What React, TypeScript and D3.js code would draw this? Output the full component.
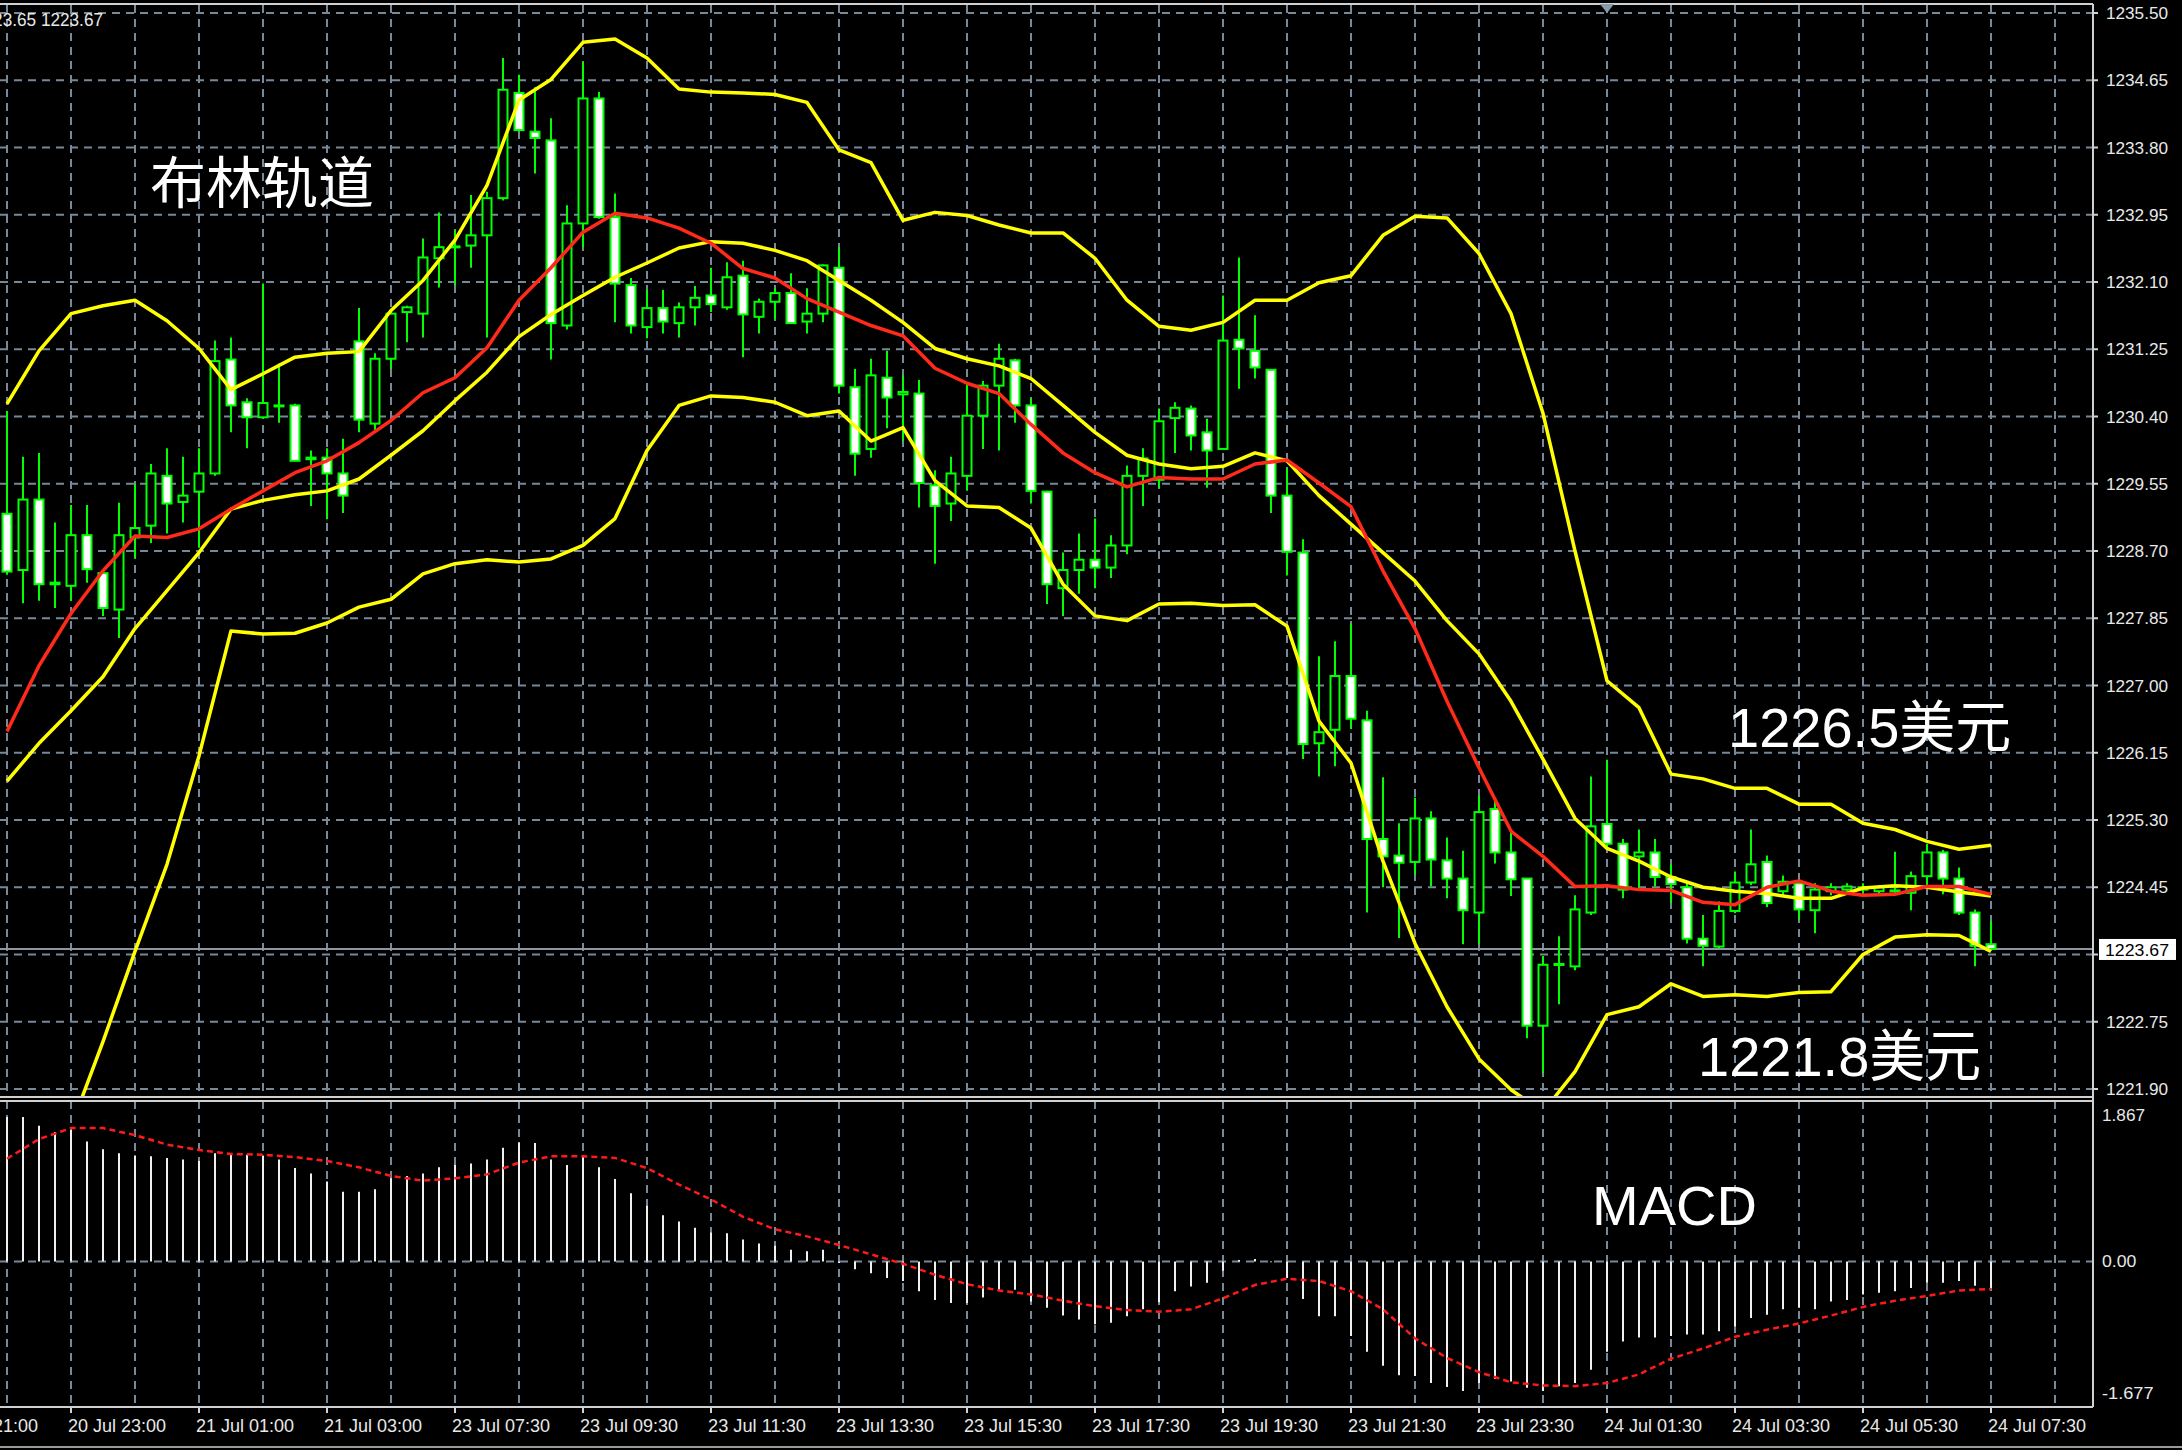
import { useEffect, useRef } from "react";
import * as d3 from "d3";

const WIDTH = 2182;
const HEIGHT = 1450;

// XAUUSD M15 candles, oldest first (bar 0 = left edge)
const opens = [
  1229.17, 1228.46, 1229.35, 1228.28, 1228.26, 1228.9, 1228.42, 1227.96, 1228.87, 1229.02,
  1229.65, 1229.32, 1229.45, 1229.68, 1231.12, 1230.58, 1230.39, 1230.53, 1230.54, 1229.86,
  1229.88, 1229.68, 1231.35, 1230.31, 1231.13, 1231.72, 1231.7, 1232.4, 1232.54, 1232.56,
  1232.69, 1233.16, 1234.49, 1234.0, 1233.89, 1231.55, 1232.84, 1234.42, 1232.92, 1232.06,
  1231.53, 1231.77, 1231.58, 1231.78, 1231.93, 1231.78, 1232.18, 1231.66, 1231.85, 1231.96,
  1231.6, 1231.7, 1232.28, 1230.77, 1229.99, 1230.89, 1230.68, 1230.69, 1229.53, 1229.3,
  1229.65, 1230.41, 1230.79, 1231.11, 1230.54, 1229.45, 1228.23, 1228.46, 1228.59, 1228.49,
  1228.77, 1229.65, 1229.6, 1230.38, 1230.5, 1230.2, 1229.99, 1231.37, 1231.23, 1230.99,
  1229.4, 1228.68, 1226.27, 1226.44, 1227.12, 1226.56, 1225.06, 1224.85, 1224.77, 1225.32,
  1224.79, 1224.56, 1224.13, 1225.44, 1224.89, 1224.56, 1222.7, 1223.47, 1223.45, 1224.13,
  1225.25, 1225.0, 1224.84, 1224.89, 1224.58, 1224.45, 1223.8, 1223.7, 1224.15, 1224.51,
  1224.77, 1224.4, 1224.5, 1224.16, 1224.4, 1224.42, 1224.45, 1224.4, 1224.4, 1224.38,
  1224.59, 1224.89, 1224.56, 1224.13, 1223.73,
];
const highs = [
  1230.47, 1229.89, 1229.94, 1229.06, 1229.28, 1229.28, 1228.45, 1229.31, 1229.55, 1229.8,
  1230.0, 1229.89, 1230.0, 1231.36, 1231.4, 1230.63, 1232.08, 1231.07, 1230.56, 1229.97,
  1230.0, 1230.12, 1231.77, 1231.2, 1231.75, 1231.8, 1232.65, 1232.98, 1232.75, 1233.2,
  1233.24, 1234.93, 1234.72, 1234.56, 1234.17, 1233.07, 1234.88, 1234.5, 1233.22, 1232.15,
  1232.0, 1232.0, 1231.84, 1232.05, 1232.28, 1232.35, 1232.37, 1231.89, 1232.02, 1232.21,
  1232.02, 1232.32, 1232.54, 1231.0, 1231.13, 1231.23, 1230.92, 1230.86, 1229.72, 1229.89,
  1230.82, 1230.85, 1231.32, 1231.13, 1230.63, 1229.46, 1228.68, 1228.92, 1229.11, 1228.9,
  1229.78, 1230.0, 1230.5, 1230.58, 1230.54, 1230.37, 1231.93, 1232.41, 1231.68, 1231.0,
  1229.75, 1228.85, 1227.37, 1227.56, 1227.78, 1226.68, 1225.84, 1225.26, 1225.58, 1225.41,
  1225.08, 1224.91, 1225.61, 1225.56, 1225.18, 1224.56, 1223.58, 1223.83, 1224.35, 1225.85,
  1226.06, 1225.06, 1225.18, 1225.06, 1224.74, 1224.5, 1224.1, 1224.27, 1224.65, 1225.18,
  1224.85, 1224.6, 1224.52, 1224.5, 1224.5, 1224.5, 1224.5, 1224.48, 1224.9, 1224.65,
  1225.0, 1224.92, 1224.7, 1224.17, 1224.02,
];
const lows = [
  1228.4, 1228.04, 1228.07, 1227.98, 1228.07, 1228.3, 1227.88, 1227.6, 1228.61, 1228.8,
  1228.92, 1229.06, 1228.74, 1229.65, 1230.2, 1230.0, 1230.38, 1230.32, 1229.84, 1229.27,
  1229.1, 1229.18, 1230.2, 1230.2, 1231.0, 1231.34, 1231.4, 1232.03, 1232.06, 1232.28,
  1231.4, 1233.13, 1234.0, 1233.47, 1231.12, 1231.5, 1232.54, 1232.9, 1231.59, 1231.45,
  1231.39, 1231.45, 1231.4, 1231.55, 1231.72, 1231.75, 1231.15, 1231.45, 1231.63, 1231.58,
  1231.45, 1231.59, 1230.69, 1229.65, 1229.88, 1230.25, 1230.09, 1229.25, 1228.54, 1229.08,
  1229.46, 1229.99, 1229.97, 1230.32, 1229.3, 1228.03, 1227.88, 1228.16, 1228.23, 1228.36,
  1228.66, 1229.27, 1229.5, 1229.94, 1229.97, 1229.5, 1229.99, 1230.75, 1230.88, 1229.18,
  1228.39, 1226.07, 1225.85, 1225.98, 1226.45, 1224.13, 1224.45, 1223.81, 1224.61, 1224.46,
  1224.31, 1223.73, 1223.73, 1224.75, 1224.34, 1222.54, 1222.1, 1222.97, 1223.4, 1224.1,
  1224.95, 1224.31, 1224.44, 1224.46, 1224.25, 1223.74, 1223.45, 1223.68, 1224.12, 1224.48,
  1224.2, 1224.35, 1224.04, 1223.87, 1224.35, 1224.38, 1224.38, 1224.36, 1224.38, 1224.16,
  1224.44, 1224.36, 1224.1, 1223.45, 1223.65,
];
const closes = [
  1228.44, 1229.35, 1228.28, 1228.3, 1228.9, 1228.47, 1227.98, 1228.9, 1228.99, 1229.68,
  1229.3, 1229.4, 1229.68, 1231.1, 1230.54, 1230.39, 1230.57, 1230.54, 1229.84, 1229.88,
  1229.68, 1229.4, 1230.36, 1231.13, 1231.7, 1231.78, 1232.41, 1232.54, 1232.55, 1232.69,
  1233.16, 1234.53, 1234.02, 1233.92, 1231.58, 1232.84, 1234.42, 1232.92, 1232.08, 1231.55,
  1231.77, 1231.6, 1231.78, 1231.9, 1231.82, 1232.16, 1231.69, 1231.85, 1231.96, 1231.58,
  1231.7, 1232.31, 1230.79, 1229.93, 1230.92, 1230.64, 1230.71, 1229.56, 1229.27, 1229.68,
  1230.41, 1230.79, 1231.13, 1230.54, 1229.46, 1228.28, 1228.46, 1228.59, 1228.49, 1228.77,
  1229.65, 1229.87, 1230.34, 1230.51, 1230.16, 1229.97, 1231.36, 1231.26, 1231.02, 1229.4,
  1228.69, 1226.26, 1226.41, 1227.12, 1226.58, 1225.06, 1224.84, 1224.76, 1225.32, 1224.8,
  1224.56, 1224.16, 1225.4, 1224.89, 1224.55, 1222.7, 1223.47, 1223.48, 1224.17, 1225.22,
  1225.0, 1224.42, 1224.89, 1224.58, 1224.49, 1223.8, 1223.71, 1224.15, 1224.51, 1224.74,
  1224.25, 1224.52, 1224.17, 1224.42, 1224.45, 1224.46, 1224.42, 1224.45, 1224.41, 1224.59,
  1224.89, 1224.56, 1224.13, 1223.71, 1223.67,
];

// indicator lines
const lineBars = d3.range(0, 125, 2);
const upperBand = [
  1230.56, 1231.23, 1231.7, 1231.8, 1231.87, 1231.61, 1231.26, 1230.74, 1230.94, 1231.15,
  1231.2, 1231.22, 1231.74, 1232.12, 1232.63, 1233.32, 1234.4, 1234.66, 1235.13, 1235.17,
  1234.93, 1234.54, 1234.5, 1234.49, 1234.47, 1234.37, 1233.77, 1233.61, 1232.88, 1232.98,
  1232.94, 1232.82, 1232.72, 1232.72, 1232.4, 1231.87, 1231.54, 1231.49, 1231.59, 1231.87,
  1231.87, 1232.09, 1232.18, 1232.69, 1232.93, 1232.91, 1232.46, 1231.7, 1230.44, 1228.7,
  1227.06, 1226.72, 1225.88, 1225.82, 1225.7, 1225.7, 1225.5, 1225.5, 1225.26, 1225.18,
  1225.03, 1224.93, 1224.98,
];
const middleBand = [
  1225.79, 1226.27, 1226.68, 1227.11, 1227.72, 1228.2, 1228.68, 1229.23, 1229.34, 1229.41,
  1229.46, 1229.61, 1229.91, 1230.22, 1230.6, 1230.96, 1231.41, 1231.69, 1231.93, 1232.16,
  1232.34, 1232.53, 1232.61, 1232.59, 1232.5, 1232.37, 1232.12, 1231.87, 1231.59, 1231.26,
  1231.13, 1231.04, 1230.88, 1230.54, 1230.2, 1229.91, 1229.8, 1229.74, 1229.77, 1229.94,
  1229.84, 1229.4, 1229.04, 1228.68, 1228.32, 1227.82, 1227.4, 1226.8, 1226.07, 1225.32,
  1224.94, 1224.78, 1224.58, 1224.45, 1224.4, 1224.37, 1224.31, 1224.31, 1224.44, 1224.47,
  1224.45, 1224.39, 1224.34,
];
const lowerBand = [
  1219.21, 1220.28, 1221.42, 1222.5, 1223.64, 1224.74, 1226.11, 1227.69, 1227.65, 1227.66,
  1227.79, 1227.99, 1228.09, 1228.41, 1228.54, 1228.59, 1228.56, 1228.6, 1228.77, 1229.11,
  1229.97, 1230.54, 1230.66, 1230.64, 1230.58, 1230.41, 1230.47, 1230.09, 1230.26, 1229.59,
  1229.27, 1229.25, 1228.99, 1228.28, 1227.88, 1227.82, 1228.03, 1228.04, 1228.01, 1228.02,
  1227.75, 1226.55, 1226.02, 1224.78, 1223.74, 1222.94, 1222.28, 1221.89, 1221.61, 1222.12,
  1222.84, 1222.94, 1223.23, 1223.07, 1223.09, 1223.07, 1223.12, 1223.13, 1223.6, 1223.82,
  1223.85, 1223.84, 1223.64,
];
const redAverage = [
  1226.42, 1227.25, 1227.91, 1228.45, 1228.89, 1228.87, 1228.98, 1229.23, 1229.46, 1229.69,
  1229.84, 1230.07, 1230.35, 1230.7, 1230.89, 1231.27, 1231.87, 1232.28, 1232.73, 1232.97,
  1232.91, 1232.78, 1232.59, 1232.27, 1232.15, 1231.89, 1231.72, 1231.55, 1231.42, 1231.01,
  1230.82, 1230.69, 1230.3, 1229.94, 1229.69, 1229.51, 1229.63, 1229.61, 1229.61, 1229.8,
  1229.85, 1229.56, 1229.26, 1228.45, 1227.72, 1226.8, 1225.96, 1225.16, 1224.84, 1224.46,
  1224.47, 1224.42, 1224.41, 1224.26, 1224.23, 1224.45, 1224.53, 1224.4, 1224.35, 1224.36,
  1224.46, 1224.46, 1224.36,
];

// MACD main (histogram, every bar) and signal (every second bar)
const macdMain = [
  1.84, 1.84, 1.73, 1.65, 1.68, 1.53, 1.43, 1.38, 1.35, 1.34,
  1.32, 1.3, 1.28, 1.38, 1.38, 1.36, 1.35, 1.3, 1.19, 1.12,
  1.02, 0.89, 0.89, 0.92, 1.06, 1.09, 1.12, 1.2, 1.23, 1.25,
  1.3, 1.45, 1.52, 1.51, 1.3, 1.23, 1.33, 1.2, 1.05, 0.87,
  0.71, 0.59, 0.51, 0.43, 0.37, 0.36, 0.28, 0.23, 0.2, 0.15,
  0.13, 0.15, -0.02, -0.1, -0.15, -0.21, -0.25, -0.38, -0.49, -0.53,
  -0.53, -0.46, -0.36, -0.36, -0.51, -0.59, -0.69, -0.74, -0.8, -0.78,
  -0.7, -0.61, -0.52, -0.38, -0.32, -0.27, -0.12, 0.02, 0.03, -0.01,
  -0.21, -0.48, -0.7, -0.7, -0.95, -1.15, -1.33, -1.45, -1.46, -1.55,
  -1.6, -1.65, -1.55, -1.5, -1.53, -1.61, -1.65, -1.59, -1.55, -1.38,
  -1.15, -1.02, -0.97, -0.97, -0.95, -0.93, -0.93, -0.89, -0.83, -0.72,
  -0.68, -0.61, -0.59, -0.61, -0.51, -0.49, -0.42, -0.4, -0.38, -0.34,
  -0.27, -0.27, -0.25, -0.31, -0.34,
];
const macdSignal = [
  1.31, 1.56, 1.7, 1.7, 1.61, 1.49, 1.42, 1.37, 1.36, 1.33,
  1.28, 1.2, 1.09, 1.03, 1.06, 1.11, 1.26, 1.34, 1.34, 1.32,
  1.19, 0.98, 0.79, 0.57, 0.41, 0.32, 0.21, 0.09, -0.03, -0.17,
  -0.29, -0.37, -0.42, -0.5, -0.57, -0.62, -0.64, -0.61, -0.47, -0.3,
  -0.22, -0.25, -0.38, -0.61, -0.98, -1.23, -1.41, -1.54, -1.58, -1.59,
  -1.55, -1.44, -1.24, -1.11, -0.96, -0.87, -0.79, -0.69, -0.58, -0.5,
  -0.44, -0.37, -0.35,
];

const priceTicks = [
  "1235.50", "1234.65", "1233.80", "1232.95", "1232.10", "1231.25", "1230.40", "1229.55",
  "1228.70", "1227.85", "1227.00", "1226.15", "1225.30", "1224.45", "1223.60", "1222.75", "1221.90",
];
const timeBars = [-4, 4, 12, 20, 28, 36, 44, 52, 60, 68, 76, 84, 92, 100, 108, 116, 124];
const timeLabels = [
  "20 Jul 21:00", "20 Jul 23:00", "21 Jul 01:00", "21 Jul 03:00", "23 Jul 07:30", "23 Jul 09:30",
  "23 Jul 11:30", "23 Jul 13:30", "23 Jul 15:30", "23 Jul 17:30", "23 Jul 19:30", "23 Jul 21:30",
  "23 Jul 23:30", "24 Jul 01:30", "24 Jul 03:30", "24 Jul 05:30", "24 Jul 07:30",
];
const macdTicks = ["1.867", "0.00", "-1.677"];
const lastPrice = 1223.67;

const GRID = "#778899";
const CANDLE = "#00ff00";
const AXIS_FONT = "'Liberation Sans', Arial, sans-serif";
const CJK_FONT = "'Liberation Sans', 'Noto Sans CJK SC', sans-serif";

export default function App() {
  const svgRef = useRef<SVGSVGElement>(null);

  useEffect(() => {
    if (!svgRef.current) return;
    const svg = d3.select(svgRef.current);
    svg.selectAll("*").remove();

    const plotRight = 2093;
    const mainTop = 5;
    const mainBottom = 1097;
    const macdTop = 1101;
    const macdBottom = 1407;

    const x = d3.scaleLinear().domain([0, 124]).range([7, 1991]);
    const y = d3.scaleLinear().domain([1221.9, 1235.5]).range([1089, 13]);
    const ym = d3.scaleLinear().domain([-1.677, 1.867]).range([1393, 1115]);

    svg.append("rect").attr("width", WIDTH).attr("height", HEIGHT).attr("fill", "#000");

    const defs = svg.append("defs");
    defs
      .append("clipPath")
      .attr("id", "main-clip")
      .append("rect")
      .attr("x", 0)
      .attr("y", mainTop)
      .attr("width", plotRight)
      .attr("height", mainBottom - mainTop);
    defs
      .append("clipPath")
      .attr("id", "macd-clip")
      .append("rect")
      .attr("x", 0)
      .attr("y", macdTop)
      .attr("width", plotRight)
      .attr("height", macdBottom - macdTop);

    // grid
    const grid = svg
      .append("g")
      .attr("stroke", GRID)
      .attr("stroke-width", 2)
      .attr("stroke-dasharray", "8,6");
    d3.range(0, 129, 4).forEach((b) => {
      grid.append("line").attr("x1", x(b)).attr("x2", x(b)).attr("y1", mainTop).attr("y2", mainBottom);
      grid.append("line").attr("x1", x(b)).attr("x2", x(b)).attr("y1", macdTop).attr("y2", macdBottom);
    });
    priceTicks.forEach((t) => {
      grid.append("line").attr("x1", 0).attr("x2", plotRight).attr("y1", y(+t)).attr("y2", y(+t));
    });
    grid.append("line").attr("x1", 0).attr("x2", plotRight).attr("y1", ym(0)).attr("y2", ym(0));

    const main = svg.append("g").attr("clip-path", "url(#main-clip)");

    // current price line
    main
      .append("line")
      .attr("x1", 0)
      .attr("x2", plotRight)
      .attr("y1", y(lastPrice))
      .attr("y2", y(lastPrice))
      .attr("stroke", "#8c96a0")
      .attr("stroke-width", 2);

    // candles
    const bodyW = 9;
    opens.forEach((o, i) => {
      const c = closes[i];
      const cx = x(i);
      main
        .append("line")
        .attr("x1", cx)
        .attr("x2", cx)
        .attr("y1", y(highs[i]))
        .attr("y2", y(lows[i]))
        .attr("stroke", CANDLE)
        .attr("stroke-width", 2);
      const top = y(Math.max(o, c));
      const h = Math.max(1, y(Math.min(o, c)) - top);
      main
        .append("rect")
        .attr("x", cx - bodyW / 2)
        .attr("y", top)
        .attr("width", bodyW)
        .attr("height", h)
        .attr("fill", c > o ? "#000" : "#fff")
        .attr("stroke", CANDLE)
        .attr("stroke-width", 2);
    });

    // bollinger bands + red average
    const line = d3
      .line<number>()
      .x((_, i) => x(lineBars[i]))
      .y((d) => y(d));
    [upperBand, middleBand, lowerBand].forEach((band) => {
      main
        .append("path")
        .datum(band)
        .attr("d", line)
        .attr("fill", "none")
        .attr("stroke", "#ffff00")
        .attr("stroke-width", 3.5)
        .attr("stroke-linejoin", "round");
    });
    main
      .append("path")
      .datum(redAverage)
      .attr("d", line)
      .attr("fill", "none")
      .attr("stroke", "#ff2a1a")
      .attr("stroke-width", 3.5)
      .attr("stroke-linejoin", "round");

    // MACD panel
    const macd = svg.append("g").attr("clip-path", "url(#macd-clip)");
    macdMain.forEach((v, i) => {
      macd
        .append("line")
        .attr("x1", x(i))
        .attr("x2", x(i))
        .attr("y1", ym(0))
        .attr("y2", ym(v))
        .attr("stroke", "#f0f0f0")
        .attr("stroke-width", 2);
    });
    const signalLine = d3
      .line<number>()
      .x((_, i) => x(lineBars[i]))
      .y((d) => ym(d));
    macd
      .append("path")
      .datum(macdSignal)
      .attr("d", signalLine)
      .attr("fill", "none")
      .attr("stroke", "#ff1a1a")
      .attr("stroke-width", 2.5)
      .attr("stroke-dasharray", "6,4");

    // frame
    const frame = svg.append("g").attr("stroke", "#d0d0d0").attr("stroke-width", 2);
    frame.append("line").attr("x1", 0).attr("x2", plotRight).attr("y1", 4).attr("y2", 4);
    frame.append("line").attr("x1", 0).attr("x2", plotRight).attr("y1", mainBottom).attr("y2", mainBottom);
    frame.append("line").attr("x1", 0).attr("x2", plotRight).attr("y1", macdTop).attr("y2", macdTop);
    frame.append("line").attr("x1", 0).attr("x2", plotRight).attr("y1", macdBottom).attr("y2", macdBottom);
    frame.append("line").attr("x1", plotRight).attr("x2", plotRight).attr("y1", 4).attr("y2", macdBottom);
    frame.append("line").attr("x1", 0).attr("x2", WIDTH).attr("y1", 1447).attr("y2", 1447).attr("stroke", "#9a9a9a");

    // chart shift marker
    svg
      .append("path")
      .attr("d", `M${x(100) - 7},4 L${x(100) + 7},4 L${x(100)},13 Z`)
      .attr("fill", "#8899aa");

    // price axis
    priceTicks.forEach((t) => {
      svg
        .append("line")
        .attr("x1", plotRight)
        .attr("x2", plotRight + 5)
        .attr("y1", y(+t))
        .attr("y2", y(+t))
        .attr("stroke", "#d0d0d0")
        .attr("stroke-width", 2);
      if (t === "1223.60") return;
      svg
        .append("text")
        .attr("x", 2106)
        .attr("y", y(+t) + 6)
        .attr("fill", "#e8e8e8")
        .attr("font-family", AXIS_FONT)
        .attr("font-size", 17)
        .attr("textLength", 62)
        .attr("lengthAdjust", "spacingAndGlyphs")
        .text(t);
    });
    svg
      .append("rect")
      .attr("x", 2099)
      .attr("y", y(lastPrice) - 10)
      .attr("width", 77)
      .attr("height", 21)
      .attr("fill", "#fff");
    svg
      .append("text")
      .attr("x", 2105)
      .attr("y", y(lastPrice) + 7)
      .attr("fill", "#000")
      .attr("font-family", AXIS_FONT)
      .attr("font-size", 17)
      .attr("textLength", 64)
      .attr("lengthAdjust", "spacingAndGlyphs")
      .text(lastPrice.toFixed(2));

    // MACD axis
    macdTicks.forEach((t) => {
      svg
        .append("text")
        .attr("x", 2102)
        .attr("y", ym(+t) + 6)
        .attr("fill", "#e8e8e8")
        .attr("font-family", AXIS_FONT)
        .attr("font-size", 17)
        .attr("textLength", t.length * 8.6)
        .attr("lengthAdjust", "spacingAndGlyphs")
        .text(t);
    });

    // time axis
    timeBars.forEach((b, i) => {
      svg
        .append("line")
        .attr("x1", x(b))
        .attr("x2", x(b))
        .attr("y1", macdBottom)
        .attr("y2", macdBottom + 6)
        .attr("stroke", "#d0d0d0")
        .attr("stroke-width", 2);
      svg
        .append("text")
        .attr("x", x(b) - 3)
        .attr("y", 1432)
        .attr("fill", "#e8e8e8")
        .attr("font-family", AXIS_FONT)
        .attr("font-size", 18)
        .attr("textLength", 98)
        .attr("lengthAdjust", "spacingAndGlyphs")
        .text(timeLabels[i]);
    });

    // OHLC readout, its left part runs off the window edge
    svg
      .append("text")
      .attr("x", 103)
      .attr("y", 26)
      .attr("text-anchor", "end")
      .attr("fill", "#e8e8e8")
      .attr("font-family", AXIS_FONT)
      .attr("font-size", 18)
      .attr("textLength", 129)
      .attr("lengthAdjust", "spacingAndGlyphs")
      .text("1223.65 1223.67");

    // annotations
    const note = (tx: number, ty: number, size: number, text: string) =>
      svg
        .append("text")
        .attr("x", tx)
        .attr("y", ty)
        .attr("fill", "#fff")
        .attr("font-family", CJK_FONT)
        .attr("font-size", size)
        .text(text);
    note(150, 203, 56, "布林轨道");
    note(1728, 747, 56, "1226.5美元");
    note(1698, 1076, 56, "1221.8美元");
    note(1592, 1225, 56, "MACD");
  }, []);

  return (
    <svg
      ref={svgRef}
      width={WIDTH}
      height={HEIGHT}
      style={{ position: "absolute", left: 0, top: 0, display: "block" }}
    />
  );
}
